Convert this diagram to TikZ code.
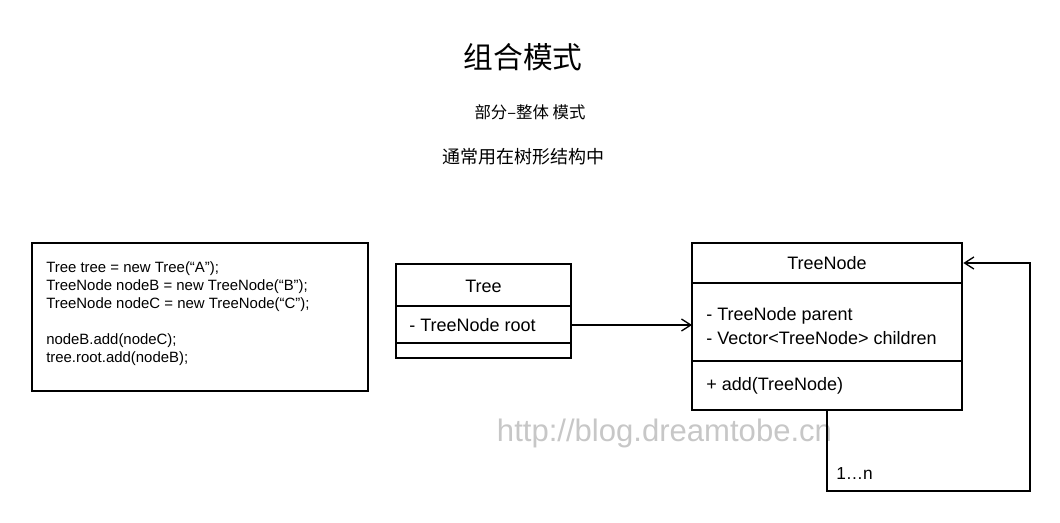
\documentclass[tikz,border=0pt]{standalone}
\usepackage{fontspec}
\setmainfont{Liberation Sans}
\newfontfamily\cjk{Noto Sans CJK SC}
\usetikzlibrary{arrows.meta}
\begin{document}
\begin{tikzpicture}[x=0.75pt,y=-0.75pt,
  box/.style={draw,line width=1.1pt},
  conn/.style={line width=1.1pt,-{Straight Barb[length=7pt,width=9pt,line width=1pt]}},
  lbl/.style={inner sep=0pt,anchor=west,font=\fontsize{13.5}{16}\selectfont},
  code/.style={inner sep=0pt,anchor=north west,align=left,font=\fontsize{11.2}{13.5}\selectfont}]
\useasboundingbox (0,0) rectangle (1060,523);
% titles
\node[font=\cjk\fontsize{22.3}{26}\selectfont] (title) at (523,57) {组合模式};
\node[font=\cjk\fontsize{12.3}{14}\selectfont] (sub1) at (530,112) {部分–整体 模式};
\node[font=\cjk\fontsize{13.5}{16}\selectfont] (sub2) at (523,157) {通常用在树形结构中};
% code box
\draw[box] (32,243) rectangle (368,391);
\node[code] (codetext) at (46,261) {Tree tree = new Tree(“A”);\\TreeNode nodeB = new TreeNode(“B”);\\TreeNode nodeC = new TreeNode(“C”);\\[13.5pt]nodeB.add(nodeC);\\tree.root.add(nodeB);};
% Tree class
\draw[box] (396,264) rectangle (571,358);
\draw[box] (396,306) -- (571,306);
\draw[box] (396,343) -- (571,343);
\node[inner sep=0pt,font=\fontsize{13.5}{16}\selectfont] (treename) at (483.5,286) {Tree};
\node[lbl] (treeroot) at (409,325) {- TreeNode root};
\coordinate (treeout) at (571,325);
% TreeNode class
\draw[box] (692,243) rectangle (962,410);
\draw[box] (692,283) -- (962,283);
\draw[box] (692,361) -- (962,361);
\node[inner sep=0pt,font=\fontsize{13.5}{16}\selectfont] (tnname) at (827,263) {TreeNode};
\node[lbl] (tnparent) at (706,316) {- TreeNode parent};
\node[lbl] (tnchildren) at (706,338) {- Vector<TreeNode> children};
\node[lbl] (tnadd) at (706,386) {+ add(TreeNode)};
\coordinate (tnin) at (692,325);
\coordinate (tnbottom) at (827,410);
\coordinate (tnright) at (962,263);
% watermark
\node[text=black!22,font=\fontsize{23.3}{28}\selectfont,inner sep=0pt] (wm) at (664.5,433) {http://blog.dreamtobe.cn};
% connectors
\draw[conn] (treeout) -- (tnin);
\draw[conn] (tnbottom) -- (827,491) -- (1030,491) -- (1030,263) -- ([xshift=1pt]tnright);
\node[lbl,font=\fontsize{13}{15}\selectfont] (mult) at (836,474) {1…n};
\end{tikzpicture}
\end{document}
